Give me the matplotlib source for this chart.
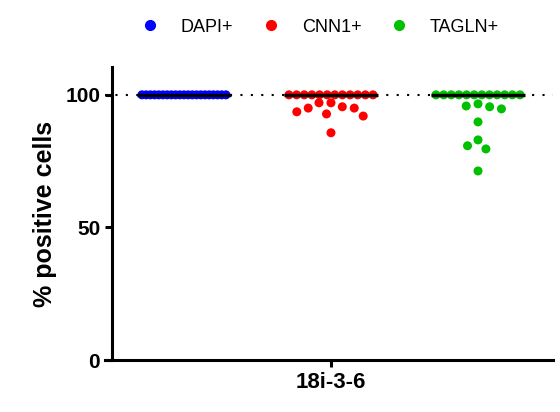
import numpy as np
import matplotlib
matplotlib.use("Agg")
import matplotlib.pyplot as plt
from matplotlib.lines import Line2D

# data
groups = ["DAPI+", "CNN1+", "TAGLN+"]
colors = ["#0000ff", "#ff0000", "#00c000"]
category = "18i-3-6"
dapi = [100] * 21
cnn1 = [100] * 12 + [97, 97, 95.5, 95, 95, 93.6, 92.8, 92, 85.7]
tagln = [100] * 12 + [96.6, 95.8, 95.5, 94.7, 89.8, 83, 80.8, 79.6, 71.3]
series = [dapi, cnn1, tagln]

plt.rcParams["font.family"] = ["Liberation Sans", "DejaVu Sans"]


def swarm(values, px_x, px_y, d=12.0, row_half=42.0):
    # scatter layout in pixel space: ties become a row (squeezed to fit),
    # the rest is a beeswarm; returns x offsets in data units
    values = np.asarray(values, dtype=float)
    offs = np.zeros(len(values))
    uniq, counts = np.unique(values, return_counts=True)
    rest = []
    for u, c in zip(uniq, counts):
        idx = np.where(values == u)[0]
        if c >= 3:
            step = min(d, 2 * row_half / (c - 1))
            offs[idx] = (np.arange(c) - (c - 1) / 2) * step
        else:
            rest += list(idx)
    rest = sorted(rest, key=lambda i: -values[i])
    placed = []
    for i in rest:
        y = values[i] * px_y
        cands = [0.0]
        for (px, py) in placed:
            dy = abs(py - y)
            if dy < d:
                dx = np.sqrt(d * d - dy * dy)
                cands += [px + dx, px - dx]
        best = 0.0
        for c in sorted(cands, key=lambda v: (abs(v), v)):
            if all((c - px) ** 2 + (y - py) ** 2 >= d * d - 1e-6 for px, py in placed):
                best = c
                break
        placed.append((best, y))
        offs[i] = best
    return offs / px_x


fig = plt.figure(figsize=(5.6, 4.12), dpi=100)
ax = fig.add_axes([105 / 560, 1 - 360 / 412, 448 / 560, 293 / 412])
ax.set_xlim(-1.537, 1.510)
ax.set_ylim(0, 110.5)

px_x = 448 / (1.510 + 1.537)
px_y = 293 / 110.5

ax.axhline(100, color="black", lw=1.5, ls=(0, (1, 4)), zorder=1)

positions = [-1, 0, 1]
for pos, vals, col in zip(positions, series, colors):
    vals = np.array(vals, dtype=float)
    offs = swarm(vals, px_x, px_y)
    ax.scatter(pos + offs, vals, s=42, color=col, edgecolors="none", zorder=2)
    med = np.median(vals)
    ax.plot([pos - 0.32, pos + 0.32], [med, med], color="black", lw=2.4,
            solid_capstyle="butt", zorder=3)

for s in ["top", "right"]:
    ax.spines[s].set_visible(False)
ax.spines["left"].set_position(("axes", 7 / 448))
ax.spines["left"].set_linewidth(2.2)
ax.spines["bottom"].set_linewidth(2.2)

ax.set_yticks([0, 50, 100])
ax.set_xticks([0])
ax.set_xticklabels([category])
ax.tick_params(axis="both", width=2.2, length=5, labelsize=15)
for lab in ax.get_yticklabels() + ax.get_xticklabels():
    lab.set_fontweight("bold")
ax.tick_params(axis="x", labelsize=16)
ax.set_ylabel("% positive cells", fontsize=18, fontweight="bold", labelpad=6)

handles = [Line2D([], [], marker="o", ls="none", color=c, markersize=7)
           for c in colors]
fig.legend(handles, groups, loc="center", bbox_to_anchor=(320 / 560, 1 - 27 / 412),
           ncol=3, frameon=False, fontsize=13, handlelength=1,
           handletextpad=1.2, columnspacing=1.6)

fig.savefig("out.png", dpi=100)
